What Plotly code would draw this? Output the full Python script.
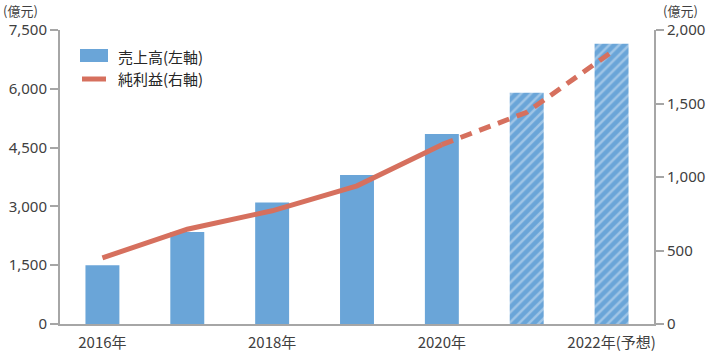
import plotly.graph_objects as go

years = ["2016年", "2017年", "2018年", "2019年", "2020年", "2021年", "2022年(予想)"]
tick_labels = ["2016年", "", "2018年", "", "2020年", "", "2022年(予想)"]
sales = [1500, 2350, 3100, 3800, 4850, 5900, 7150]
profit = [450, 645, 770, 940, 1220, 1440, 1850]
forecast = [False, False, False, False, False, True, True]
legend_labels = ["売上高(左軸)", "純利益(右軸)"]

blue = "#6aa5d8"
red = "#d6705e"
grey = "#a6a6a6"
font = "Noto Sans CJK JP, Noto Sans, sans-serif"
numfont = "Noto Sans, sans-serif"
tickc = "#404040"

fig = go.Figure()
fig.add_trace(go.Bar(
    x=years, y=sales, name=legend_labels[0], width=0.4,
    marker=dict(
        color=blue,
        line=dict(width=0),
        pattern=dict(
            shape=["/" if f else "" for f in forecast],
            fgcolor="#d6e6f5", bgcolor=blue, size=7, solidity=0.35,
        ),
    ),
    yaxis="y", showlegend=False,
))
solid_idx = [i for i in range(len(years)) if i <= 4]
dash_idx = [i for i in range(len(years)) if i >= 4]
fig.add_trace(go.Scatter(
    x=[years[i] for i in solid_idx], y=[profit[i] for i in solid_idx],
    mode="lines", name=legend_labels[1], line=dict(color=red, width=5),
    yaxis="y2", showlegend=False,
))
fig.add_trace(go.Scatter(
    x=[years[i] for i in dash_idx], y=[profit[i] for i in dash_idx],
    mode="lines", showlegend=False, line=dict(color=red, width=5, dash="12px,8px"),
    yaxis="y2",
))

# manual legend (pixel -> paper conversion, plot area 60..654 x 30..324)
def px(x):
    return (x - 60) / 594

def py(y):
    return (324 - y) / 294

shapes = [
    dict(type="rect", xref="paper", yref="paper", x0=px(80), x1=px(108), y0=py(62), y1=py(49),
         fillcolor=blue, line=dict(width=0)),
    dict(type="line", xref="paper", yref="paper", x0=px(82), x1=px(106), y0=py(79), y1=py(79),
         line=dict(color=red, width=5)),
]

fig.update_layout(
    width=714, height=354,
    margin=dict(l=60, r=60, t=30, b=30, autoexpand=False),
    paper_bgcolor="white", plot_bgcolor="white",
    font=dict(family=font, size=15, color=tickc),
    barmode="overlay",
    showlegend=False,
    shapes=shapes,
    xaxis=dict(
        type="category", range=[-0.5, 6.5], automargin=False,
        tickmode="array", tickvals=years, ticktext=tick_labels,
        showline=True, linecolor=grey, linewidth=2, ticklabelstandoff=4,
        ticks="", showgrid=False, tickfont=dict(size=15, color=tickc),
    ),
    yaxis=dict(
        range=[0, 7500], tickvals=[0, 1500, 3000, 4500, 6000, 7500], automargin=False,
        tickformat=",", showline=True, linecolor=grey, linewidth=2,
        ticks="outside", ticklen=8, tickcolor=grey, tickwidth=2,
        showgrid=False, zeroline=False, tickfont=dict(family=numfont, size=15, color=tickc),
    ),
    yaxis2=dict(
        range=[0, 2000], tickvals=[0, 500, 1000, 1500, 2000], automargin=False,
        tickformat=",", overlaying="y", side="right",
        showline=True, linecolor=grey, linewidth=2,
        ticks="outside", ticklen=8, tickcolor=grey, tickwidth=2,
        showgrid=False, zeroline=False, tickfont=dict(family=numfont, size=15, color=tickc),
    ),
    annotations=[
        dict(text="(億元)", xref="paper", yref="paper", x=px(2), y=py(0),
             xanchor="left", yanchor="top", showarrow=False, borderpad=0,
             font=dict(size=13, color=tickc)),
        dict(text="(億元)", xref="paper", yref="paper", x=px(662), y=py(0),
             xanchor="left", yanchor="top", showarrow=False, borderpad=0,
             font=dict(size=13, color=tickc)),
        dict(text=legend_labels[0], xref="paper", yref="paper", x=px(116), y=py(56),
             xanchor="left", yanchor="middle", showarrow=False, font=dict(size=15, color="#262626")),
        dict(text=legend_labels[1], xref="paper", yref="paper", x=px(116), y=py(79),
             xanchor="left", yanchor="middle", showarrow=False, font=dict(size=15, color="#262626")),
    ],
)

fig.write_html("out.html")
